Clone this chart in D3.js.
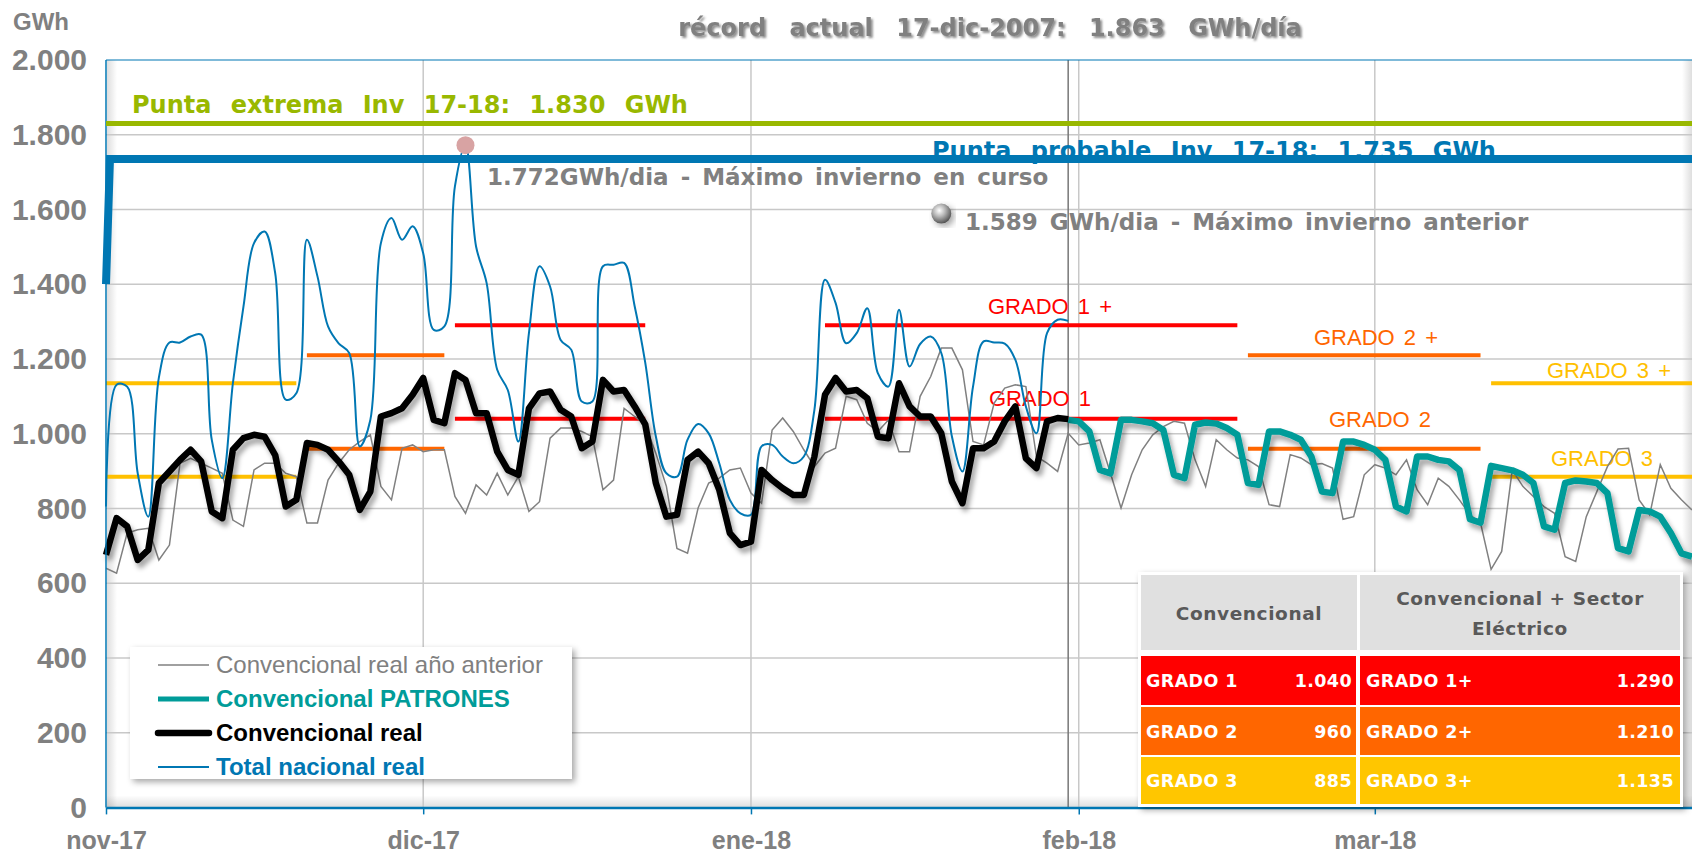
<!DOCTYPE html>
<html>
<head>
<meta charset="utf-8">
<script src="https://cdn.jsdelivr.net/npm/d3@7"></script>
<style>
body { margin: 0; background: #fff; }
</style>
</head>
<body>
<svg id="chart" width="1692" height="854"></svg>
<script>
// dias desde 1-nov-2017
var firstDay = Date.UTC(2017, 10, 1);
var lastDay = Date.UTC(2018, 2, 31);
var monthLabels = ["nov-17", "dic-17", "ene-18", "feb-18", "mar-18"];
var yTicks = [0, 200, 400, 600, 800, 1000, 1200, 1400, 1600, 1800, 2000];

var puntaExtrema = 1830;
var puntaProbable = 1735;
var puntaProbableStart = 1400;
var maxCurso = 1772, maxCursoDay = 34;
var maxAnterior = 1589, maxAnteriorDay = 79;
var todayIndex = 91;

// Total nacional real (dias 0..91)
var totalNacional = [
  805,1131,1126,894,778,1150,1244,1244,1260,1265,
  984,881,1135,1340,1510,1541,1430,1091,1108,1519,
  1421,1287,1242,1216,966,1037,1510,1577,1519,1555,
  1483,1278,1287,1662,1772,1501,1403,1171,1117,979,
  1269,1448,1394,1251,1225,1086,1086,1448,1452,1457,
  1341,1190,993,894,885,984,1026,1001,921,823,
  787,783,966,970,939,921,939,1064,1412,1350,
  1242,1269,1336,1162,1126,1332,1180,1240,1260,1216,
  993,899,1126,1247,1244,1241,1198,1073,1001,1269,
  1305,1302
];

// Convencional real (dias 0..91)
var convReal = [
  676,774,752,662,689,868,899,930,957,926,
  792,774,957,988,997,992,943,805,823,975,
  970,957,926,890,796,845,1046,1055,1068,1104,
  1149,1037,1028,1162,1144,1055,1055,952,903,890,
  1068,1108,1113,1064,1046,961,979,1144,1113,1117,
  1073,1025,868,778,783,930,952,921,850,734,
  702,711,903,876,854,836,836,939,1104,1149,
  1113,1117,1095,992,988,1135,1073,1046,1046,1001,
  872,814,961,961,979,1033,1073,934,908,1033,
  1042,1039
];

// Convencional PATRONES (dias 91..150)
var patronesStart = 91;
var patrones = [
  1037,1033,1006,903,894,1037,1037,1033,1028,1010,
  890,881,1024,1030,1027,1015,997,868,863,1006,
  1006,997,984,939,845,841,979,979,970,957,
  930,805,792,939,939,930,926,903,771,762,
  914,908,902,890,868,752,743,868,875,872,
  868,841,694,685,796,792,778,734,680,671
];

// Convencional real año anterior (dias 0..150)
var anioAnterior = [
  640,627,734,743,747,662,702,921,934,921,
  908,894,769,752,903,921,921,894,885,761,
  761,876,921,957,979,997,859,823,961,970,
  952,957,957,832,787,863,836,894,836,885,
  792,818,988,1015,1015,1006,992,850,876,1068,
  1046,1024,948,859,693,680,801,868,881,903,
  908,841,814,1010,1042,1006,957,912,948,961,
  1100,1091,1028,1006,1037,952,952,1100,1153,1229,
  1229,1171,979,970,1082,1122,1131,1126,939,921,
  899,1001,970,975,984,894,801,890,957,997,
  1019,1033,1028,930,859,984,957,935,930,912,
  810,805,944,935,917,920,908,771,778,890,
  917,908,890,930,850,810,881,859,823,783,
  761,637,685,903,859,832,805,787,671,658,
  778,845,912,959,961,823,783,917,854,823,796
];

// grados
var gradoNames = ["GRADO 1", "GRADO 2", "GRADO 3"];
var gradoConv = [1040, 960, 885];
var gradoSector = [1290, 1210, 1135];
var periodStart = [0, 19, 33, 68, 108, 131];
var periodEnd = [18, 32, 51, 107, 130, 150];
var periodGrado = [3, 2, 1, 1, 2, 3];

var gradoColors = ["#ff0000", "#ff6600", "#ffc000"];
var tableColors = ["#ff0000", "#ff6600", "#ffc600"];
var blue = "#0077b3", teal = "#009c99", green = "#99b800", grey = "#808080";
var AR = "'Liberation Sans', Arial, sans-serif";
var VB = "'DejaVu Sans', Verdana, sans-serif";

var fmt = d3.formatLocale({decimal: ",", thousands: ".", grouping: [3], currency: ["", ""]}).format(",");
function dayDate(i) { return d3.utcDay.offset(new Date(firstDay), i); }

var svg = d3.select("#chart");
var pL = 106, pR = 1692, pT = 60, pB = 807.4;

var x = d3.scaleUtc().domain([new Date(firstDay), new Date(lastDay)]).range([pL, pR]);
var y = d3.scaleLinear().domain([0, 2000]).range([pB, pT]);
var monthDates = d3.utcMonth.range(new Date(firstDay), d3.utcDay.offset(new Date(lastDay), 1));

var defs = svg.append("defs");
var sh = defs.append("filter").attr("id", "shadow").attr("x", "-10%").attr("y", "-10%").attr("width", "130%").attr("height", "140%");
sh.append("feDropShadow").attr("dx", 3).attr("dy", 5).attr("stdDeviation", 2.5).attr("flood-color", "#000").attr("flood-opacity", 0.35);
var sh2 = defs.append("filter").attr("id", "boxshadow").attr("x", "-10%").attr("y", "-10%").attr("width", "130%").attr("height", "130%");
sh2.append("feDropShadow").attr("dx", 3).attr("dy", 3).attr("stdDeviation", 3).attr("flood-color", "#000").attr("flood-opacity", 0.35);
var sh3 = defs.append("filter").attr("id", "txtshadow");
sh3.append("feDropShadow").attr("dx", 2).attr("dy", 2).attr("stdDeviation", 1.2).attr("flood-color", "#444").attr("flood-opacity", 0.6);

function grad(id, x1, y1, x2, y2) {
  var g = defs.append("linearGradient").attr("id", id).attr("x1", x1).attr("y1", y1).attr("x2", x2).attr("y2", y2);
  g.append("stop").attr("offset", 0).attr("stop-color", "#000").attr("stop-opacity", 0.13);
  g.append("stop").attr("offset", 1).attr("stop-color", "#000").attr("stop-opacity", 0);
}
grad("gLeft", 0, 0, 1, 0);
grad("gBottom", 0, 1, 0, 0);
grad("gRight", 1, 0, 0, 0);
var sph = defs.append("radialGradient").attr("id", "sphere").attr("cx", "40%").attr("cy", "35%").attr("r", "65%");
sph.append("stop").attr("offset", 0).attr("stop-color", "#ffffff");
sph.append("stop").attr("offset", 0.45).attr("stop-color", "#b8b8b8");
sph.append("stop").attr("offset", 1).attr("stop-color", "#555");

svg.append("rect").attr("width", 1692).attr("height", 854).attr("fill", "#fff");

// sombreado del area de trazado
svg.append("rect").attr("x", pL + 1).attr("y", pT).attr("width", 10).attr("height", pB - pT).attr("fill", "url(#gLeft)");
svg.append("rect").attr("x", pL).attr("y", pB - 12).attr("width", pR - pL).attr("height", 12).attr("fill", "url(#gBottom)");
svg.append("rect").attr("x", pR - 10).attr("y", pT).attr("width", 10).attr("height", pB - pT).attr("fill", "url(#gRight)");

// rejilla
svg.append("g").selectAll("line").data(yTicks.filter(function(d){ return d > 0 && d < 2000; }))
  .enter().append("line")
  .attr("x1", pL).attr("x2", pR)
  .attr("y1", function(d){ return y(d); }).attr("y2", function(d){ return y(d); })
  .attr("stroke", "#c8c8c8").attr("stroke-width", 1.5);
svg.append("g").selectAll("line").data(monthDates.slice(1))
  .enter().append("line")
  .attr("x1", function(d){ return x(d); }).attr("x2", function(d){ return x(d); })
  .attr("y1", pT).attr("y2", pB)
  .attr("stroke", "#c8c8c8").attr("stroke-width", 1.5);

// dia actual
svg.append("line")
  .attr("x1", x(dayDate(todayIndex))).attr("x2", x(dayDate(todayIndex)))
  .attr("y1", pT).attr("y2", pB)
  .attr("stroke", "#777").attr("stroke-width", 1.5);

// grados
var periods = periodStart.map(function(s, i){ return {s: s, e: periodEnd[i], g: periodGrado[i]}; });
periods.forEach(function(p){
  [gradoConv[p.g - 1], gradoSector[p.g - 1]].forEach(function(v){
    svg.append("line")
      .attr("x1", x(dayDate(p.s))).attr("x2", x(dayDate(p.e)))
      .attr("y1", y(v)).attr("y2", y(v))
      .attr("stroke", gradoColors[p.g - 1]).attr("stroke-width", 4);
  });
});

// etiquetas de grados
var gradoLabels = [
  {t: "GRADO 1 +", g: 1, x: 988, y: 314},
  {t: "GRADO 1", g: 1, x: 989, y: 406},
  {t: "GRADO 2 +", g: 2, x: 1314, y: 345},
  {t: "GRADO 2", g: 2, x: 1329, y: 427},
  {t: "GRADO 3 +", g: 3, x: 1547, y: 378},
  {t: "GRADO 3", g: 3, x: 1551, y: 466}
];
svg.append("g").selectAll("text").data(gradoLabels).enter().append("text")
  .attr("x", function(d){ return d.x; }).attr("y", function(d){ return d.y; })
  .attr("fill", function(d){ return gradoColors[d.g - 1]; })
  .attr("font-family", AR).attr("font-size", 22).attr("word-spacing", 3)
  .text(function(d){ return d.t; });

// series
function lineFor(offset, curve) {
  return d3.line()
    .x(function(d, i){ return x(dayDate(i + offset)); })
    .y(function(d){ return y(d); })
    .curve(curve || d3.curveLinear);
}

svg.append("path").datum(anioAnterior)
  .attr("d", lineFor(0))
  .attr("fill", "none").attr("stroke", grey).attr("stroke-width", 1.5);

svg.append("path").datum(totalNacional)
  .attr("d", lineFor(0, d3.curveCatmullRom))
  .attr("fill", "none").attr("stroke", blue).attr("stroke-width", 2);

svg.append("path").datum(patrones)
  .attr("d", lineFor(patronesStart))
  .attr("fill", "none").attr("stroke", teal).attr("stroke-width", 6.5)
  .attr("stroke-linejoin", "round").attr("filter", "url(#shadow)");

svg.append("path").datum(convReal)
  .attr("d", lineFor(0))
  .attr("fill", "none").attr("stroke", "#000").attr("stroke-width", 6.5)
  .attr("stroke-linejoin", "round").attr("filter", "url(#shadow)");

// ejes y bordes
svg.append("line").attr("x1", pL).attr("x2", pL).attr("y1", pT).attr("y2", pB)
  .attr("stroke", blue).attr("stroke-width", 1.5);
svg.append("line").attr("x1", pL).attr("x2", pR).attr("y1", pT).attr("y2", pT)
  .attr("stroke", blue).attr("stroke-width", 1.2);

var xAxis = svg.append("g").attr("transform", "translate(0," + pB + ")")
  .call(d3.axisBottom(x).tickValues(monthDates).tickFormat(function(d, i){ return monthLabels[i]; })
    .tickSize(7).tickSizeOuter(0).tickPadding(17));
xAxis.select(".domain").attr("stroke", blue).attr("stroke-width", 2.5);
xAxis.selectAll(".tick line").attr("stroke", blue).attr("stroke-width", 1.5);
xAxis.selectAll(".tick text").attr("fill", grey).attr("font-family", AR)
  .attr("font-weight", "bold").attr("font-size", 25).attr("dy", "0.71em");

var yAxis = svg.append("g").attr("transform", "translate(" + pL + ",0)")
  .call(d3.axisLeft(y).tickValues(yTicks).tickFormat(fmt).tickSize(0).tickPadding(19));
yAxis.select(".domain").remove();
yAxis.selectAll(".tick text").attr("fill", grey).attr("font-family", AR)
  .attr("font-weight", "bold").attr("font-size", 30);

svg.append("text").attr("x", 13).attr("y", 30).attr("fill", grey)
  .attr("font-family", AR).attr("font-weight", "bold").attr("font-size", 24).text("GWh");

// puntas
svg.append("line").attr("x1", pL).attr("x2", pR).attr("y1", y(puntaExtrema)).attr("y2", y(puntaExtrema))
  .attr("stroke", green).attr("stroke-width", 5);
svg.append("text").attr("x", 132).attr("y", 113).attr("fill", green)
  .attr("font-family", VB).attr("font-weight", "bold").attr("font-size", 24).attr("word-spacing", 11)
  .text("Punta extrema Inv 17-18: " + fmt(puntaExtrema) + " GWh");

svg.append("text").attr("x", 932).attr("y", 159).attr("fill", blue)
  .attr("font-family", VB).attr("font-weight", "bold").attr("font-size", 24).attr("word-spacing", 11)
  .text("Punta probable Inv 17-18: " + fmt(puntaProbable) + " GWh");
svg.append("path")
  .datum([[0, puntaProbableStart], [0.4, puntaProbable], [150, puntaProbable]])
  .attr("d", d3.line().x(function(d){ return x(d3.utcHour.offset(new Date(firstDay), d[0] * 24)); }).y(function(d){ return y(d[1]); }))
  .attr("fill", "none").attr("stroke", blue).attr("stroke-width", 8);

// maximos
svg.append("circle").attr("cx", x(dayDate(maxCursoDay))).attr("cy", y(maxCurso)).attr("r", 9)
  .attr("fill", "#d8a3a3");
svg.append("text").attr("x", 487).attr("y", 185).attr("fill", grey)
  .attr("font-family", VB).attr("font-weight", "bold").attr("font-size", 23).attr("word-spacing", 4)
  .text(fmt(maxCurso) + "GWh/dia - Máximo invierno en curso");

svg.append("circle").attr("cx", x(dayDate(maxAnteriorDay))).attr("cy", y(maxAnterior)).attr("r", 10)
  .attr("fill", "url(#sphere)").attr("filter", "url(#boxshadow)");
svg.append("text").attr("x", 965).attr("y", 230).attr("fill", grey)
  .attr("font-family", VB).attr("font-weight", "bold").attr("font-size", 23).attr("word-spacing", 4)
  .text(fmt(maxAnterior) + " GWh/dia - Máximo invierno anterior");

// titulo
svg.append("text").attr("x", 990).attr("y", 36).attr("text-anchor", "middle").attr("fill", grey)
  .attr("font-family", VB).attr("font-weight", "bold").attr("font-size", 24).attr("word-spacing", 15)
  .attr("filter", "url(#txtshadow)")
  .text("récord actual 17-dic-2007: 1.863 GWh/día");

// leyenda
var legendItems = [
  {t: "Convencional real año anterior", c: grey, w: 1.5, b: "normal"},
  {t: "Convencional PATRONES", c: teal, w: 5, b: "bold"},
  {t: "Convencional real", c: "#000", w: 6.5, b: "bold"},
  {t: "Total nacional real", c: blue, w: 2, b: "bold"}
];
var lg = svg.append("g");
lg.append("rect").attr("x", 130).attr("y", 647).attr("width", 442).attr("height", 132)
  .attr("fill", "#fff").attr("filter", "url(#boxshadow)");
legendItems.forEach(function(d, i){
  var yy = 665 + i * 34;
  lg.append("line").attr("x1", 158).attr("x2", 209).attr("y1", yy).attr("y2", yy)
    .attr("stroke", d.c).attr("stroke-width", d.w).attr("stroke-linecap", d.w > 5 ? "round" : "butt");
  lg.append("text").attr("x", 216).attr("y", yy + 8).attr("fill", d.c)
    .attr("font-family", AR).attr("font-weight", d.b).attr("font-size", 24).text(d.t);
});

// tabla
var tb = svg.append("g");
tb.append("rect").attr("x", 1138).attr("y", 572).attr("width", 545).attr("height", 235)
  .attr("fill", "#fff").attr("filter", "url(#boxshadow)");
tb.append("rect").attr("x", 1141).attr("y", 575).attr("width", 216).attr("height", 75).attr("fill", "#e0e0e0");
tb.append("rect").attr("x", 1360).attr("y", 575).attr("width", 320).attr("height", 75).attr("fill", "#e0e0e0");
tb.append("text").attr("x", 1249).attr("y", 620).attr("text-anchor", "middle").attr("fill", "#595959")
  .attr("font-family", VB).attr("font-weight", "bold").attr("font-size", 18.5).attr("letter-spacing", 0.6)
  .text("Convencional");
tb.append("text").attr("x", 1520).attr("y", 605).attr("text-anchor", "middle").attr("fill", "#595959")
  .attr("font-family", VB).attr("font-weight", "bold").attr("font-size", 18.5).attr("letter-spacing", 0.6)
  .text("Convencional + Sector");
tb.append("text").attr("x", 1520).attr("y", 635).attr("text-anchor", "middle").attr("fill", "#595959")
  .attr("font-family", VB).attr("font-weight", "bold").attr("font-size", 18.5).attr("letter-spacing", 0.6)
  .text("Eléctrico");
var rowTop = [656, 707, 757];
var rowH = [49, 48, 47];
gradoNames.forEach(function(name, i){
  tb.append("rect").attr("x", 1141).attr("y", rowTop[i]).attr("width", 215).attr("height", rowH[i]).attr("fill", tableColors[i]);
  tb.append("rect").attr("x", 1360).attr("y", rowTop[i]).attr("width", 320).attr("height", rowH[i]).attr("fill", tableColors[i]);
  var ty = rowTop[i] + rowH[i] / 2 + 6.5;
  function cell(tx, anchor, txt) {
    tb.append("text").attr("x", tx).attr("y", ty).attr("text-anchor", anchor).attr("fill", "#fff")
      .attr("font-family", VB).attr("font-weight", "bold").attr("font-size", 17.5).attr("letter-spacing", 0.4)
      .text(txt);
  }
  cell(1146, "start", name);
  cell(1352, "end", fmt(gradoConv[i]));
  cell(1366, "start", name + "+");
  cell(1674, "end", fmt(gradoSector[i]));
});
</script>
</body>
</html>
